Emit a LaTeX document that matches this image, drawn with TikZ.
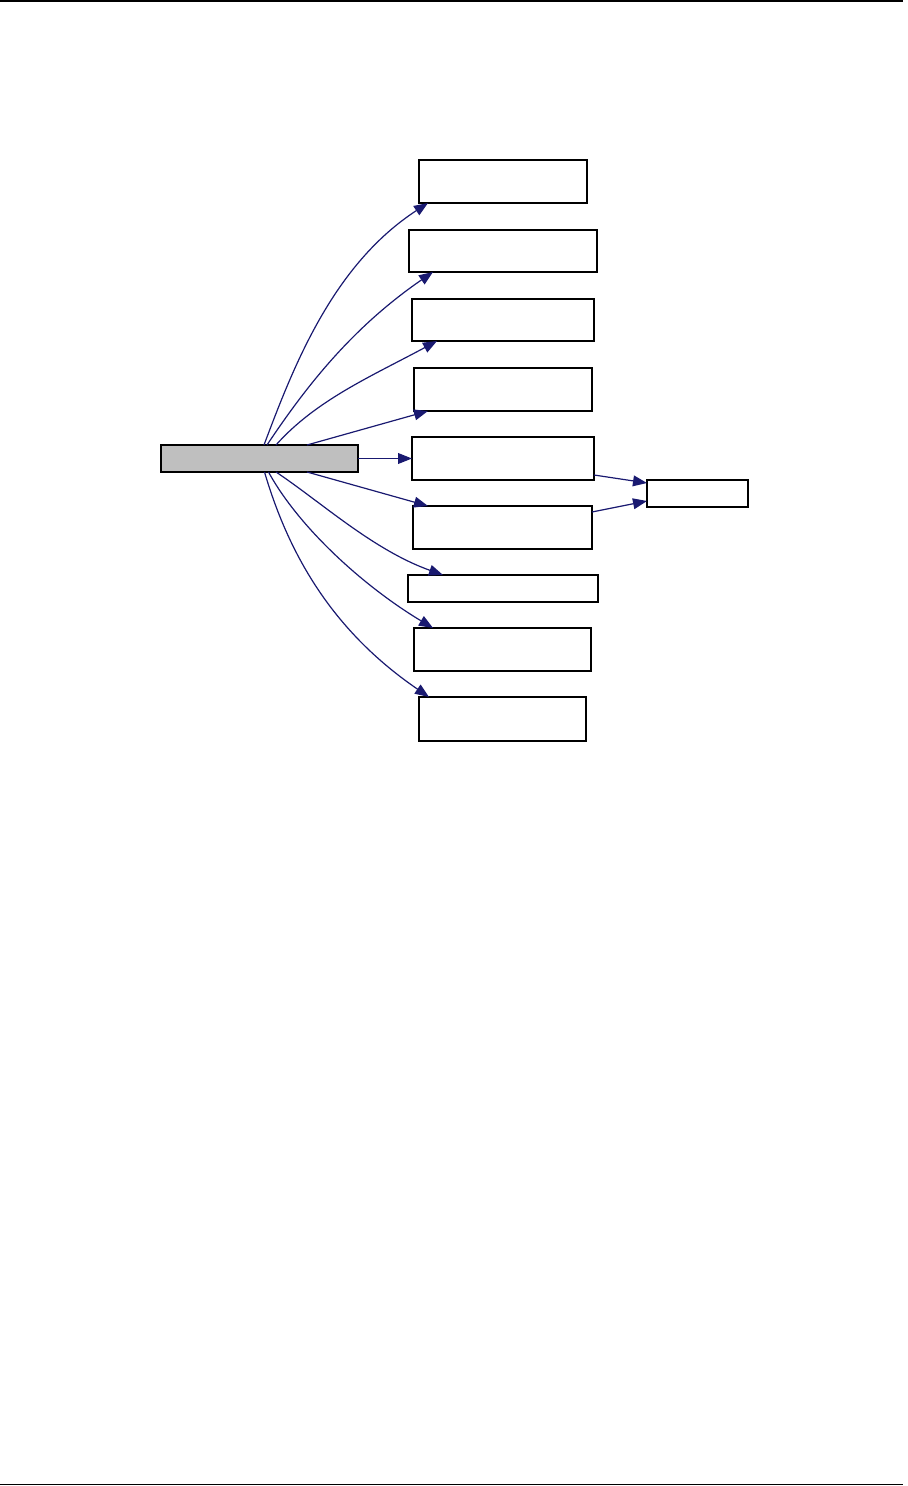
\documentclass[tikz,border=0pt]{standalone}
\usepackage{tikz}
\usetikzlibrary{calc,arrows.meta}
\definecolor{linkblue}{RGB}{25,25,112}
\definecolor{srcgray}{RGB}{191,191,191}
\tikzset{
	pbox/.style={draw=black, line width=0.75pt, inner sep=0pt, outer sep=0pt, fill=white},
	link/.style={draw=linkblue, line width=0.6pt, -{Triangle[length=7pt,width=5.4pt]}},
}

\begin{document}
\begin{tikzpicture}[x=0.5pt, y=-0.5pt]
			%%%%% START %%%%%
			\useasboundingbox (0, 0) rectangle (908, 1486);
			
			\draw[line width=0.8pt] (0, 0.8) -- (903, 0.8);
			\draw[line width=0.8pt] (0, 1484.5) -- (903, 1484.5);
			
			\node[pbox, fill=srcgray, minimum width=98.5pt, minimum height=13.5pt] (src) at (259.5, 458.5) {};
			
			\node[pbox, minimum width=84pt, minimum height=21.5pt] (b1) at (503, 181.5) {};
			\node[pbox, minimum width=94pt, minimum height=21pt] (b2) at (503, 251) {};
			\node[pbox, minimum width=91pt, minimum height=21pt] (b3) at (503, 320) {};
			\node[pbox, minimum width=89pt, minimum height=21.5pt] (b4) at (503, 389.5) {};
			\node[pbox, minimum width=91pt, minimum height=21.5pt] (b5) at (503, 458.5) {};
			\node[pbox, minimum width=89.5pt, minimum height=21.5pt] (b6) at (502.5, 527.5) {};
			\node[pbox, minimum width=95pt, minimum height=13.5pt] (b7) at (503, 588.5) {};
			\node[pbox, minimum width=88.5pt, minimum height=21.5pt] (b8) at (502.5, 649.5) {};
			\node[pbox, minimum width=83.5pt, minimum height=22pt] (b9) at (502.5, 719) {};
			
			\node[pbox, minimum width=50.5pt, minimum height=13.5pt] (sm) at (697.5, 493.5) {};
			
			% upper fan
			\draw[link] ($(src.north)+(4.5,0)$) .. controls +(30,-80) and +(-95,62) .. ($(b1.south west)+(9,0)$);
			\draw[link] ($(src.north)+(7.5,0)$) .. controls +(40,-60) and +(-80,55) .. ($(b2.south west)+(24,0)$);
			\draw[link] ($(src.north)+(16.5,0)$) .. controls +(40,-45) and +(-65,35) .. ($(b3.south west)+(25,0)$);
			\draw[link] ($(src.north)+(47.5,0)$) -- ($(b4.south west)+(14,0)$);
			
			\draw[link] (src.east) -- (b5.west);
			
			% lower fan
			\draw[link] ($(src.south)+(47.5,0)$) -- ($(b6.north west)+(15,0)$);
			\draw[link] ($(src.south)+(16.5,0)$) .. controls +(45,30) and +(-70,-25) .. ($(b7.north west)+(35,0)$);
			\draw[link] ($(src.south)+(9,0)$) .. controls +(30,55) and +(-70,-42) .. ($(b8.north west)+(19,0)$);
			\draw[link] ($(src.south)+(5,0)$) .. controls +(25,85) and +(-95,-65) .. ($(b9.north west)+(10,0)$);
			
			\draw[link] ($(b5.south east)+(0,-5)$) -- ($(sm.north west)+(0,3)$);
			\draw[link] ($(b6.north east)+(0,6)$) -- ($(sm.south west)+(0,-6)$);
			%%%%% END %%%%%
\end{tikzpicture}
\end{document}
